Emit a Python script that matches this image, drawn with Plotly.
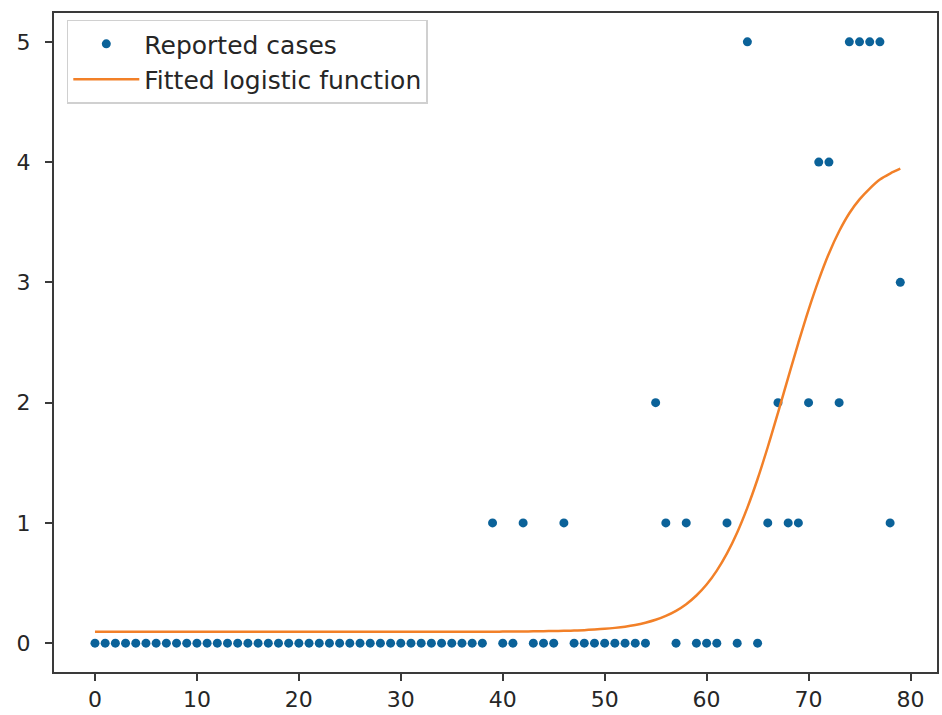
import plotly.graph_objects as go

days = list(range(80))
reported_cases = (
    [0] * 39
    + [1, 0, 0, 1, 0, 0, 0, 1]            # days 39-46
    + [0] * 8                             # days 47-54
    + [2, 1, 0, 1, 0, 0, 0, 1, 0, 5, 0,   # days 55-65
       1, 2, 1, 1, 2, 4, 4, 2, 5, 5, 5, 5, 1, 3]  # days 66-79
)

fit_days = list(range(80))
fitted_values = (
    [0.095] * 40
    + [0.096, 0.097, 0.097, 0.098, 0.099, 0.101, 0.102, 0.105, 0.108, 0.113,   # 40-49
       0.119, 0.127, 0.137, 0.151, 0.170, 0.194, 0.227, 0.269, 0.324, 0.396,   # 50-59
       0.487, 0.603, 0.746, 0.920, 1.127, 1.365, 1.631, 1.915, 2.208, 2.497,   # 60-69
       2.772, 3.021, 3.241, 3.425, 3.575, 3.690, 3.780, 3.855, 3.905, 3.945]   # 70-79
)

x_ticks = [0, 10, 20, 30, 40, 50, 60, 70, 80]
y_ticks = [0, 1, 2, 3, 4, 5]

fig = go.Figure()
fig.add_trace(go.Scatter(
    x=days, y=reported_cases, mode="markers", name="Reported cases",
    marker=dict(color="#0b6299", size=9),
))
fig.add_trace(go.Scatter(
    x=fit_days, y=fitted_values, mode="lines", name="Fitted logistic function",
    line=dict(color="#f28028", width=2.5, shape="spline"),
))

axis_common = dict(
    showline=True, mirror=True, linecolor="#3a3a3a", linewidth=2,
    showgrid=False, zeroline=False, ticks="outside", ticklen=7,
    tickwidth=1.5, tickcolor="#3a3a3a", automargin=False,
    tickfont=dict(family="DejaVu Sans", size=22, color="#262626"),
)
fig.update_xaxes(range=[-4.02, 82.6], tickvals=x_ticks, ticklabelstandoff=0, **axis_common)
fig.update_yaxes(range=[-0.24, 5.24], tickvals=y_ticks, ticklabelstandoff=10, **axis_common)

fig.update_layout(
    width=942, height=715,
    margin=dict(l=54, r=5, t=13, b=43),
    plot_bgcolor="white", paper_bgcolor="white",
    font=dict(family="DejaVu Sans", size=25, color="#262626"),
    legend=dict(
        x=0.0145, y=0.99, xanchor="left", yanchor="top",
        bgcolor="white", bordercolor="#d0d0d0", borderwidth=1.5,
        font=dict(family="DejaVu Sans", size=25, color="#262626"),
        itemwidth=66,
    ),
)

fig.write_html("out.html")
